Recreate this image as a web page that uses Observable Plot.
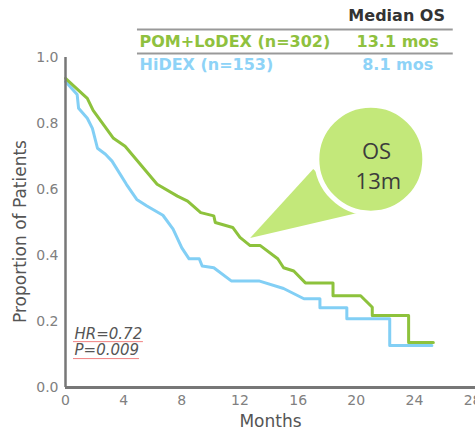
<!DOCTYPE html>
<html>
<head>
<meta charset="utf-8">
<script src="https://cdn.jsdelivr.net/npm/d3@7"></script>
<script src="https://cdn.jsdelivr.net/npm/@observablehq/plot@0.6"></script>
<style>
  html, body { margin: 0; padding: 0; background: #fff; }
</style>
</head>
<body>
<div id="chart"></div>
<script>
// Kaplan–Meier curves (months, proportion surviving)
const pomMonths = [0, 1.5, 1.9, 3.3, 4.1, 6.3, 7.7, 8.4, 9.3, 10.2, 10.3, 11.5, 12.0, 12.7, 13.4, 14.6, 15.0, 15.7, 16.5, 18.4, 18.4, 20.3, 21.1, 21.1, 23.6, 23.6, 25.3];
const pomValues = [0.937, 0.876, 0.84, 0.755, 0.731, 0.616, 0.58, 0.565, 0.53, 0.52, 0.50, 0.485, 0.455, 0.43, 0.43, 0.39, 0.363, 0.353, 0.317, 0.317, 0.278, 0.278, 0.243, 0.218, 0.218, 0.136, 0.136];

const hiMonths = [0, 0.8, 0.9, 1.5, 1.85, 2.2, 2.75, 3.2, 4.2, 4.9, 5.6, 6.7, 7.4, 8.0, 8.5, 9.2, 9.4, 10.2, 11.4, 13.3, 15.0, 16.4, 17.5, 17.5, 19.35, 19.35, 22.3, 22.3, 25.2];
const hiValues = [0.927, 0.888, 0.846, 0.816, 0.785, 0.725, 0.707, 0.686, 0.615, 0.57, 0.55, 0.522, 0.48, 0.423, 0.39, 0.39, 0.368, 0.363, 0.323, 0.323, 0.30, 0.269, 0.269, 0.242, 0.242, 0.208, 0.208, 0.127, 0.127];

const xTicks = [0, 4, 8, 12, 16, 20, 24, 28];
const yTicks = [0, 0.2, 0.4, 0.6, 0.8, 1.0];

const seriesNames = ["POM+LoDEX (n=302)", "HiDEX (n=153)"];
const medianLabels = ["13.1 mos", "8.1 mos"];
const statLabels = ["HR=0.72", "P=0.009"];

const GREEN = "#8dc23c";
const BLUE = "#82cff5";
const GREEN_TEXT = "#8fc13e";
const BLUE_TEXT = "#8ed3f7";
const CALLOUT = "#c3e87a";

const pom = pomMonths.map((m, i) => ({month: m, p: pomValues[i]}));
const hi = hiMonths.map((m, i) => ({month: m, p: hiValues[i]}));

// Callout shape in data coordinates
const calloutTri = [
  {month: 12.7, p: 0.453},
  {month: 17.04, p: 0.662},
  {month: 20.07, p: 0.529}
];
const calloutCircle = [{month: 21.0, p: 0.692}];

const chart = Plot.plot({
  width: 475,
  height: 431,
  marginLeft: 65,
  marginRight: 0,
  marginTop: 57,
  marginBottom: 44,
  style: {fontFamily: "DejaVu Sans, Verdana, sans-serif", fontSize: "14px", background: "#fff"},
  x: {domain: [0, 28.2]},
  y: {domain: [0, 1]},
  marks: [
    Plot.axisX({ticks: xTicks, tickSize: 0, tickPadding: 8, color: "#808080", fontSize: 14, label: null}),
    Plot.axisY({ticks: yTicks, tickSize: 0, tickPadding: 7, color: "#808080", fontSize: 14, tickFormat: d3.format(".1f"), label: null}),
    Plot.text(["Proportion of Patients"], {frameAnchor: "left", textAnchor: "middle", lineAnchor: "middle", rotate: -90, dx: -45, dy: 9, fill: "#555", fontSize: 17}),
    Plot.text(["Months"], {frameAnchor: "bottom", lineAnchor: "middle", dy: 34, fill: "#555", fontSize: 17}),

    // callout
    Plot.line(calloutTri, {x: "month", y: "p", fill: CALLOUT, stroke: "none"}),
    Plot.dot(calloutCircle, {x: "month", y: "p", r: 54, fill: CALLOUT, stroke: "#fff", strokeWidth: 5}),
    Plot.text(["OS"], {x: 21.39, y: 0.713, fill: "#3c3c3c", fontSize: 22, fontFamily: "Open Sans"}),
    Plot.text(["13m"], {x: 21.52, y: 0.622, fill: "#3c3c3c", fontSize: 22, fontFamily: "Open Sans"}),

    // curves
    Plot.line(hi, {x: "month", y: "p", stroke: BLUE, strokeWidth: 3, curve: "linear"}),
    Plot.line(pom, {x: "month", y: "p", stroke: GREEN, strokeWidth: 3, curve: "linear"}),

    // axis lines
    Plot.ruleX([0], {y1: 0, y2: 1, stroke: "#777", strokeWidth: 2.5}),
    Plot.ruleY([0], {stroke: "#777", strokeWidth: 3}),

    // legend table
    Plot.text(["Median OS"], {x: 26.1, y: 1.127, textAnchor: "end", fill: "#333", fontWeight: "bold", fontSize: 16}),
    Plot.ruleY([1.085, 1.012], {x1: 4.95, x2: 26.67, stroke: "#999", strokeWidth: 2}),
    Plot.text([seriesNames[0]], {x: 5.09, y: 1.048, textAnchor: "start", fill: GREEN_TEXT, fontWeight: "bold", fontSize: 16}),
    Plot.text([medianLabels[0]], {x: 22.85, y: 1.048, fill: GREEN_TEXT, fontWeight: "bold", fontSize: 16}),
    Plot.text([seriesNames[1]], {x: 5.09, y: 0.979, textAnchor: "start", fill: BLUE_TEXT, fontWeight: "bold", fontSize: 16}),
    Plot.text([medianLabels[1]], {x: 22.85, y: 0.979, fill: BLUE_TEXT, fontWeight: "bold", fontSize: 16}),

    // stats
    Plot.text([statLabels[0]], {x: 0.62, y: 0.163, textAnchor: "start", fill: "#555", fontStyle: "italic", fontSize: 15}),
    Plot.text([statLabels[1]], {x: 0.62, y: 0.112, textAnchor: "start", fill: "#555", fontStyle: "italic", fontSize: 15}),
    Plot.ruleY([0.139], {x1: 0.55, x2: 5.36, stroke: "#f08080", strokeWidth: 1}),
    Plot.ruleY([0.0876], {x1: 0.55, x2: 5.09, stroke: "#f08080", strokeWidth: 1})
  ]
});

document.getElementById("chart").appendChild(chart);
</script>
</body>
</html>
